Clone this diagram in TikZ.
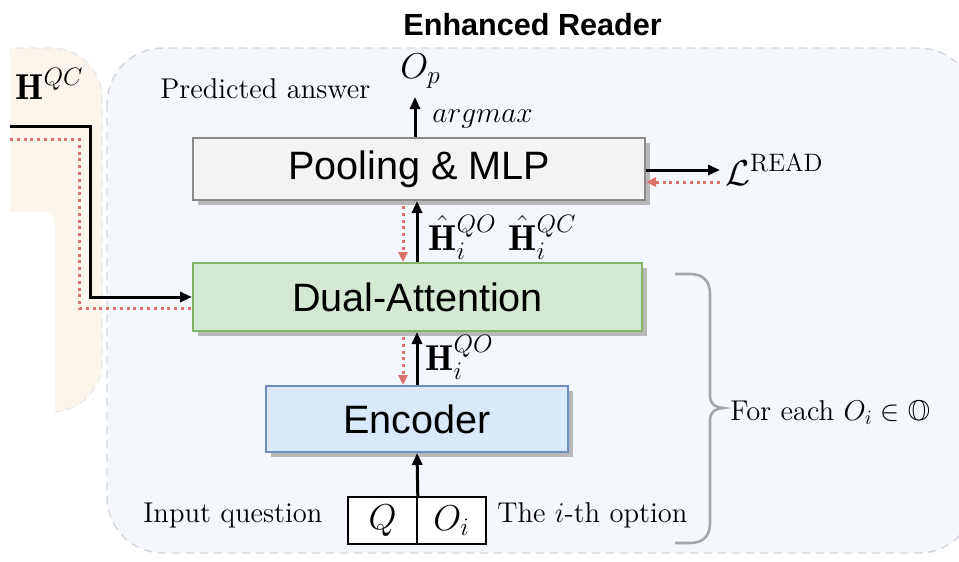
\RequirePackage{fix-cm}
\documentclass[tikz,border=0pt]{standalone}
\usepackage{amsmath,amssymb}
\usepackage{fontspec}
\newfontfamily\boxfont{Liberation Sans}
\usetikzlibrary{arrows.meta,shadows}
\definecolor{bgblue}{HTML}{F4F7FC}
\definecolor{bgpeach}{HTML}{FCF5EC}
\definecolor{regionborder}{HTML}{D3D7DD}
\definecolor{poolfill}{HTML}{F3F3F3}
\definecolor{pooldraw}{HTML}{8A8A8A}
\definecolor{dualfill}{HTML}{D5E8D4}
\definecolor{dualdraw}{HTML}{82B366}
\definecolor{encfill}{HTML}{DAE8FC}
\definecolor{encdraw}{HTML}{6C8EBF}
\definecolor{gradred}{HTML}{D8736C}
\definecolor{bracegray}{HTML}{A5A5A5}
\begin{document}
\begin{tikzpicture}[x=0.5pt,y=-0.5pt,
  blockbox/.style={line width=1pt, inner sep=0pt,
    font=\boxfont\fontsize{19.8}{23}\selectfont,
    general shadow={fill=black!28, shadow xshift=2.5pt, shadow yshift=-2.5pt}},
  inbox/.style={draw=black, fill=white, line width=0.8pt, inner sep=0pt,
    minimum width=34.5pt, minimum height=23.5pt, font=\fontsize{18}{22}\selectfont},
  txt/.style={inner sep=0pt, font=\fontsize{14.3}{17}\selectfont},
  mth/.style={inner sep=0pt, font=\fontsize{18}{22}\selectfont},
  blackarrow/.style={line width=1.5pt, -{Triangle[length=6pt,width=5pt]}},
  redline/.style={gradred, line width=1.5pt, dash pattern=on 1.5pt off 1.9pt},
  redarrow/.style={redline, -{Triangle[length=5pt,width=4.5pt]}},
  bracestyle/.style={bracegray, line width=1.3pt}
]
\useasboundingbox (0,0) rectangle (959,562);
\clip (0,0) rectangle (959,562);

% regions
\fill[bgpeach, rounded corners=25pt] (-60,48) rectangle (102,412);
\draw[regionborder!60, dash pattern=on 4pt off 3pt, line width=0.6pt, rounded corners=25pt] (-60,48) rectangle (102,412);
\fill[white] (-20,30) rectangle (10,480);
\fill[white, rounded corners=5pt] (-20,212) rectangle (55,460);
\draw[fill=bgblue, draw=regionborder, dash pattern=on 4pt off 3pt, line width=0.7pt, rounded corners=28pt] (107,48) rectangle (975,553);

% title
\node[anchor=base west, inner sep=0pt, font=\boxfont\bfseries\fontsize{15.3}{18}\selectfont] (title) at (403,35) {Enhanced Reader};

% blocks
\node[blockbox, draw=pooldraw, fill=poolfill, minimum width=226pt, minimum height=31pt] (pool) at (419,169) {Pooling \& MLP};
\node[blockbox, draw=dualdraw, fill=dualfill, minimum width=224.5pt, minimum height=34pt] (dual) at (417.5,297) {Dual-Attention};
\node[blockbox, draw=encdraw, fill=encfill, minimum width=151pt, minimum height=33pt] (enc) at (417,419) {Encoder};

% inputs
\node[inbox] (qbox) at (382.5,520.5) {$Q$};
\node[inbox] (obox) at (451.5,520.5) {$O_i$};
\node[txt, anchor=base west] (inq) at (143,522) {Input question};
\node[txt, anchor=base west] (iopt) at (497,522) {The $i$-th option};

% labels
\node[txt, anchor=base west] (pred) at (160,98) {Predicted answer};
\node[mth, anchor=base west] (op) at (400,78) {$O_p$};
\node[inner sep=0pt, font=\fontsize{14.7}{17}\selectfont, anchor=base west] (argm) at (432,122) {$argmax$};
\node[mth, anchor=base west] (lread) at (725,185) {$\mathcal{L}^{\mathrm{READ}}$};
\node[mth, anchor=base west] (hhqo) at (428,250) {$\hat{\mathbf{H}}_i^{QO}$};
\node[mth, anchor=base west] (hhqc) at (508,250) {$\hat{\mathbf{H}}_i^{QC}$};
\node[mth, anchor=base west] (hqo) at (425,370) {$\mathbf{H}_i^{QO}$};
\node[mth, anchor=base west] (hqc) at (15,99) {$\mathbf{H}^{QC}$};
\node[txt, anchor=base west] (foreach) at (730,420) {For each $O_i \in \mathbb{O}$};

% helper coordinates
\coordinate (ax) at (417,0);
\coordinate (rx) at (403,0);
\coordinate (px) at (415,0);
\coordinate (opin) at (415,97);
\coordinate (ly1) at (0,170);
\coordinate (ly2) at (0,182);
\coordinate (lin) at (720,170);
\coordinate (lout) at (720,182);
\coordinate (hb1) at (10,126);
\coordinate (hb2) at (90,126);
\coordinate (hb3) at (90,297);
\coordinate (hr1) at (10,139);
\coordinate (hr2) at (79,139);
\coordinate (hr3) at (79,308);

% connectors
\draw[blackarrow] (px |- pool.north) -- (opin);
\draw[blackarrow] (pool.east |- ly1) -- (lin);
\draw[redarrow] (lout) -- (pool.east |- ly2);
\draw[blackarrow] (ax |- dual.north) -- (ax |- pool.south);
\draw[redarrow] ([yshift=-2.5pt]rx |- pool.south) -- (rx |- dual.north);
\draw[blackarrow] (ax |- enc.north) -- (ax |- dual.south);
\draw[redarrow] ([yshift=-2.5pt]rx |- dual.south) -- (rx |- enc.north);
\draw[blackarrow] (qbox.north east) -- (ax |- enc.south);
\draw[blackarrow] (hb1) -- (hb2) -- (hb3) -- (dual.west);
\draw[redline] (hr1) -- (hr2) -- (hr3) -- (dual.west |- hr3);

% brace
\draw[bracestyle] (675,274) -- (690,274) .. controls (703,274) and (710,281) .. (710,294)
  -- (710,396) .. controls (710,404) and (716,408) .. (723,408)
  .. controls (716,408) and (710,412) .. (710,420)
  -- (710,523) .. controls (710,536) and (703,543) .. (690,543) -- (675,543);
\end{tikzpicture}
\end{document}
